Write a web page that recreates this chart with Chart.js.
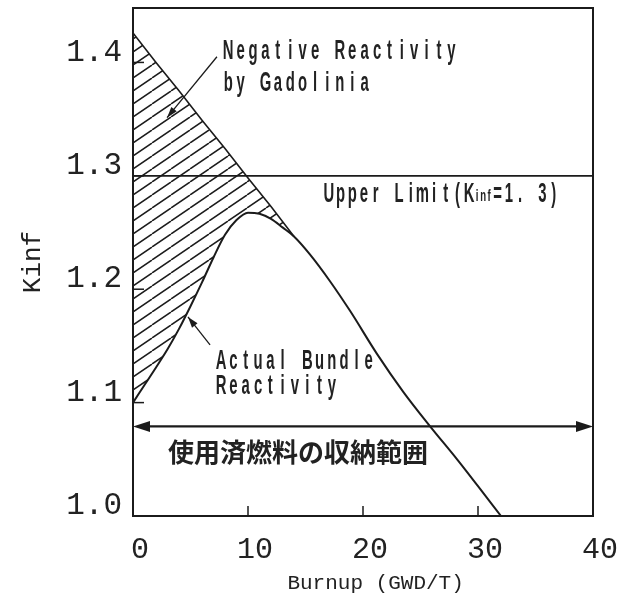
<!DOCTYPE html>
<html><head><meta charset="utf-8">
<script src="https://cdn.jsdelivr.net/npm/chart.js@4/dist/chart.umd.min.js"></script>
<style>html,body{margin:0;padding:0;background:#ffffff;}#wrap{width:624px;height:598px;}</style>
</head><body><div id="wrap"><canvas id="c" width="624" height="598"></canvas></div>
<script>
// ---- data ----
const burnupActual = [0,1,2,3,4,5,6,7,8,9,10,11,12,13,14,15.4,17.1,18.9,21.2,23.5,25.8,28.2,30,32];
const kinfActual   = [1.100,1.1155,1.131,1.147,1.165,1.185,1.206,1.228,1.248,1.261,1.2675,1.2665,1.262,1.2545,1.2465,1.2305,1.2075,1.1805,1.1432,1.1095,1.0795,1.0497,1.0263,1.000];
const burnupNoGd   = [0,2,4,6,8,10,12,14];
const kinfNoGd     = [1.426,1.400,1.375,1.349,1.324,1.298,1.273,1.2465];
const upperLimitX  = [0,40];
const upperLimitK  = [1.3,1.3];
const xTickValues  = [0,10,20,30,40];
const yTickValues  = [1.0,1.1,1.2,1.3,1.4];
const storageRange = [0,40];
const storageK     = 1.079;
const labelNegative = ['Negative Reactivity','by Gadolinia'];
const labelActual   = ['Actual Bundle','Reactivity'];
const labelUpperA   = 'Upper Limit(K';
const labelUpperSub = 'inf';
const labelUpperB   = '=1. 3)';
const labelStorage  = '使用済燃料の収納範囲';
const xTitle = 'Burnup (GWD/T)';
const yTitle = 'Kinf';

const INK = '#1b1b1b';

function hatchPattern(){
  const w=19,h=13;
  const c=document.createElement('canvas'); c.width=w; c.height=h;
  const g=c.getContext('2d');
  g.strokeStyle=INK; g.lineWidth=1.5;
  for(const dx of [-w,0,w]){ g.beginPath(); g.moveTo(dx,h); g.lineTo(dx+w,0); g.stroke(); }
  return g.createPattern(c,'repeat');
}
function pts(xs,ys){ return xs.map((x,i)=>({x:x,y:ys[i]})); }

function spaced(ctx,text,x,y,pitch,size,sx,weight){
  ctx.font = (weight||'bold')+' '+size+'px "Liberation Sans"';
  ctx.textAlign='center'; ctx.textBaseline='middle';
  for(let i=0;i<text.length;i++){
    const ch=text[i]; if(ch===' ') continue;
    ctx.save(); ctx.translate(x+i*pitch+pitch/2,y); ctx.scale(sx,1); ctx.fillText(ch,0,0); ctx.restore();
  }
  return x+text.length*pitch;
}
function arrowHead(ctx,x0,y0,x1,y1,len,half){
  const a=Math.atan2(y1-y0,x1-x0);
  ctx.beginPath();
  ctx.moveTo(x1,y1);
  ctx.lineTo(x1-len*Math.cos(a)+half*Math.sin(a), y1-len*Math.sin(a)-half*Math.cos(a));
  ctx.lineTo(x1-len*Math.cos(a)-half*Math.sin(a), y1-len*Math.sin(a)+half*Math.cos(a));
  ctx.closePath(); ctx.fill();
}

const decor = {
  id:'decor',
  afterDraw(chart){
    const ctx=chart.ctx, xs=chart.scales.x, ys=chart.scales.y, a=chart.chartArea;
    const X=v=>xs.getPixelForValue(v), Y=v=>ys.getPixelForValue(v);
    ctx.save();
    ctx.strokeStyle=INK; ctx.fillStyle=INK;
    // frame
    ctx.lineWidth=2; ctx.strokeRect(a.left,a.top,a.right-a.left,a.bottom-a.top);
    // inner ticks
    ctx.lineWidth=1.5;
    xTickValues.slice(1,-1).forEach(v=>{ctx.beginPath();ctx.moveTo(X(v),a.bottom);ctx.lineTo(X(v),a.bottom-10);ctx.stroke();});
    yTickValues.slice(1).forEach(v=>{ctx.beginPath();ctx.moveTo(a.left,Y(v));ctx.lineTo(a.left+11,Y(v));ctx.stroke();});
    // storage range double arrow
    const ya=Y(storageK), xa0=X(storageRange[0]), xa1=X(storageRange[1]);
    ctx.lineWidth=2.2;
    ctx.beginPath(); ctx.moveTo(xa0+10,ya); ctx.lineTo(xa1-10,ya); ctx.stroke();
    arrowHead(ctx,xa1-30,ya,xa0,ya,17,5.5);
    arrowHead(ctx,xa0+30,ya,xa1,ya,17,5.5);
    // leaders
    ctx.lineWidth=1.3;
    const l1=[[7.30,1.405],[2.96,1.3513]], l2=[[6.70,1.1509],[4.78,1.1756]];
    [l1,l2].forEach(l=>{
      const x0=X(l[0][0]),y0=Y(l[0][1]),x1=X(l[1][0]),y1=Y(l[1][1]);
      ctx.beginPath();ctx.moveTo(x0,y0);ctx.lineTo(x1,y1);ctx.stroke();
      arrowHead(ctx,x0,y0,x1,y1,11,3.5);
    });
    // texts
    ctx.fillStyle='#222';
    spaced(ctx,labelNegative[0],X(7.74),Y(1.4095),12.4,27,0.55);
    spaced(ctx,labelNegative[1],X(7.74),Y(1.3813),12.4,27,0.55);
    spaced(ctx,labelActual[0],X(7.13),Y(1.1359),12.3,27,0.55);
    spaced(ctx,labelActual[1],X(7.13),Y(1.1139),12.3,27,0.55);
    let xe=spaced(ctx,labelUpperA,X(16.52),Y(1.2833),11.7,27,0.55);
    xe=spaced(ctx,labelUpperSub,xe-1,Y(1.2833)+2,6,16,0.6);
    spaced(ctx,labelUpperB,xe,Y(1.2833),11.2,27,0.55);
    ctx.font='bold 26px "Noto Sans CJK JP"'; ctx.textAlign='left'; ctx.textBaseline='middle';
    ctx.fillText(labelStorage,X(3.04),Y(1.0565));
    ctx.restore();
  }
};

new Chart(document.getElementById('c'),{
  type:'line',
  data:{datasets:[
    {data:pts(burnupNoGd,kinfNoGd),borderColor:INK,borderWidth:1.6,pointRadius:0,tension:0,fill:'+1',backgroundColor:hatchPattern()},
    {data:pts(burnupActual,kinfActual),borderColor:INK,borderWidth:2,pointRadius:0,cubicInterpolationMode:'monotone',fill:false},
    {data:pts(upperLimitX,upperLimitK),borderColor:INK,borderWidth:1.8,pointRadius:0,fill:false}
  ]},
  options:{
    responsive:false,animation:false,
    layout:{padding:{left:0,top:8,right:31,bottom:0}},
    plugins:{legend:{display:false},tooltip:{enabled:false}},
    scales:{
      x:{type:'linear',min:0,max:40,
        afterFit:s=>{s.height=82;s.paddingLeft=0;s.paddingRight=0;},
        afterBuildTicks:s=>{s.ticks=xTickValues.map(v=>({value:v}));},
        grid:{display:false,drawTicks:false},border:{display:false},
        ticks:{padding:16,labelOffset:7,color:'#222',font:{family:'Liberation Mono',size:30},callback:v=>String(v)},
        title:{display:true,text:'  '+xTitle,color:'#222',font:{family:'Liberation Mono',size:21},padding:{top:0,bottom:2}}
      },
      y:{type:'linear',min:1.0,max:1.448,
        afterFit:s=>{s.width=133;s.paddingTop=0;s.paddingBottom=0;},
        afterBuildTicks:s=>{s.ticks=yTickValues.map(v=>({value:v}));},
        grid:{display:false,drawTicks:false},border:{display:false},
        ticks:{padding:11,labelOffset:-10,color:'#222',font:{family:'Liberation Mono',size:31},callback:v=>v.toFixed(1)},
        title:{display:true,text:yTitle,color:'#222',font:{family:'Liberation Mono',size:26},padding:{top:18,bottom:0}}
      }
    }
  },
  plugins:[decor]
});
</script></body></html>
